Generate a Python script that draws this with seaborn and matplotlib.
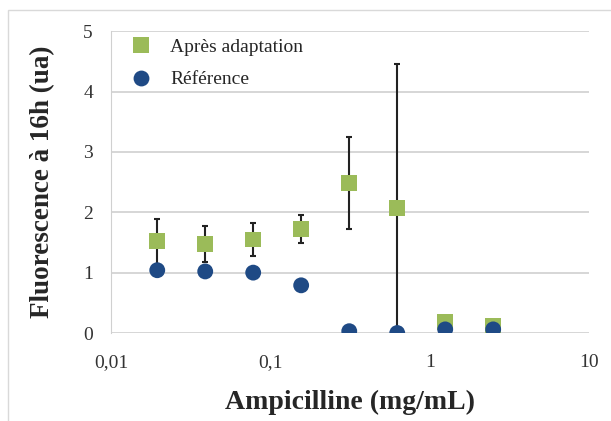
import matplotlib
matplotlib.use("Agg")
import matplotlib.pyplot as plt
import pandas as pd
import seaborn as sns
from matplotlib.patches import Rectangle

# data
concentrations = [0.0195, 0.039, 0.078, 0.156, 0.3125, 0.625, 1.25, 2.5]
apres_adaptation = [1.52, 1.48, 1.55, 1.72, 2.48, 2.07, 0.18, 0.12]
apres_err = [0.37, 0.30, 0.27, 0.23, 0.76, 2.38, 0.09, 0.0]
reference = [1.04, 1.02, 1.00, 0.79, 0.03, 0.00, 0.06, 0.06]
series_names = ["Après adaptation", "Référence"]
x_ticks = [0.01, 0.1, 1, 10]
x_tick_labels = ["0,01", "0,1", "1", "10"]

green = "#9BBB59"
blue = "#1F4A85"

df = pd.DataFrame({
    "conc": concentrations * 2,
    "val": apres_adaptation + reference,
    "serie": [series_names[0]] * len(concentrations) + [series_names[1]] * len(concentrations),
})

sns.set_style("white")
plt.rcParams["font.family"] = ["Liberation Serif", "DejaVu Serif"]

fig = plt.figure(figsize=(6.11, 4.21), dpi=100)
ax = fig.add_axes([0.1817, 0.209, 0.7825, 0.717])

# outer frame like the pasted chart
fig.patches.append(Rectangle((8 / 611, -0.01), 1.0, 1 - 10 / 421 + 0.01, transform=fig.transFigure,
                             fill=False, edgecolor="#d9d9d9", linewidth=1.0))

ax.errorbar(concentrations, apres_adaptation, yerr=apres_err, fmt="none", ecolor="#222222",
            elinewidth=1.5, capsize=2.5, capthick=1.5, zorder=2)
sns.scatterplot(data=df, x="conc", y="val", hue="serie", style="serie",
                palette=[green, blue], markers=["s", "o"], s=130, linewidth=0,
                ax=ax, zorder=3)

ax.set_xscale("log")
ax.set_xlim(0.01, 10)
ax.set_ylim(0, 5)
ax.set_xticks(x_ticks)
ax.set_xticklabels(x_tick_labels)
ax.minorticks_off()
ax.set_yticks([0, 1, 2, 3, 4, 5])
ax.tick_params(axis="both", labelsize=14, colors="#bfbfbf", labelcolor="#333333", length=5, width=1)
ax.tick_params(axis="x", direction="out", pad=10)
ax.tick_params(axis="y", pad=8)
ax.grid(axis="y", color="#d0d0d0", linewidth=1.2)
ax.set_axisbelow(True)
for side in ["top", "right", "bottom"]:
    ax.spines[side].set_visible(False)
ax.spines["left"].set_color("#d0d0d0")

ax.set_xlabel("Ampicilline (mg/mL)", fontsize=20, fontweight="bold", labelpad=14)
ax.set_ylabel("Fluorescence à 16h (ua)", fontsize=19.5, fontweight="bold", labelpad=20)

leg = ax.legend(loc="upper left", bbox_to_anchor=(-0.01, 1.027), frameon=False, fontsize=14,
                handletextpad=0.5, labelspacing=0.75, markerscale=1.0, borderaxespad=0.4)
leg.set_title(None)

fig.savefig("out.png", dpi=100)
